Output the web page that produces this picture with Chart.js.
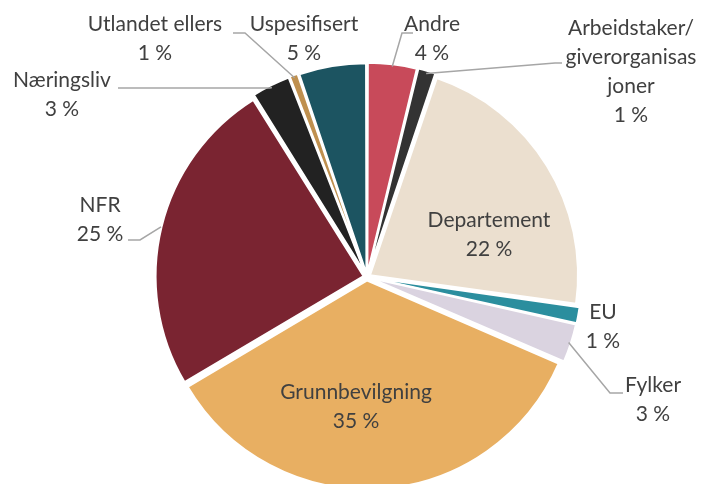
<!DOCTYPE html>
<html>
<head>
<meta charset="utf-8">
<script src="https://cdn.jsdelivr.net/npm/chart.js@4.4.1/dist/chart.umd.min.js"></script>
<style>
  html, body { margin: 0; padding: 0; background: #fff; }
  #wrap { width: 704px; height: 484px; }
</style>
</head>
<body>
<div id="wrap"><canvas id="pie" width="704" height="484"></canvas></div>
<script>
// Shares, clockwise from 12 o'clock
const categories = ['Andre', 'Arbeidstaker/giverorganisasjoner', 'Departement', 'EU', 'Fylker',
    'Grunnbevilgning', 'NFR', 'Næringsliv', 'Utlandet ellers', 'Uspesifisert'];
const shares = [3.8, 1.4, 22.0, 1.3, 3.0, 35.0, 24.6, 3.0, 0.7, 5.2];
const colors = ['#C84A5A', '#333333', '#EBDFCF', '#2B8E9E', '#DAD3E0',
    '#E8AF62', '#7A2431', '#222222', '#BF904F', '#1C5461'];

// label text lines (name part), in the same order as categories
const labelLines = [
    ['Andre'], ['Arbeidstaker/', 'giverorganisas', 'joner'], ['Departement'], ['EU'], ['Fylker'],
    ['Grunnbevilgning'], ['NFR'], ['Næringsliv'], ['Utlandet ellers'], ['Uspesifisert']
];

// where each label sits and how its leader line bends (null = label inside slice)
const labelLayout = [
    { x: 432, y: 24, leader: [[402, 33], [413, 33]] },
    { x: 631, y: 28, leader: [[555, 63], [562, 63]] },
    { x: 489, y: 220, leader: null },
    { x: 603, y: 312, leader: null },
    { x: 653, y: 385, leader: [[610, 393], [623, 393]] },
    { x: 356, y: 392, leader: null },
    { x: 100, y: 205, leader: [[140, 240], [128, 240]] },
    { x: 62, y: 80, leader: [[270, 88], [118, 88]] },
    { x: 155, y: 24, leader: [[245, 33], [233, 33]] },
    { x: 304, y: 24, leader: null }
];

const total = shares.reduce((a, b) => a + b, 0);

const labelPlugin = {
    id: 'pieLabels',
    afterDatasetsDraw(chart) {
        const ctx = chart.ctx;
        const arcs = chart.getDatasetMeta(0).data;
        ctx.save();
        arcs.forEach((arc, i) => {
            const lay = labelLayout[i];
            const mid = (arc.startAngle + arc.endAngle) / 2;
            if (lay.leader) {
                const r = arc.outerRadius + 4;
                ctx.beginPath();
                ctx.moveTo(arc.x + Math.cos(mid) * r, arc.y + Math.sin(mid) * r);
                lay.leader.forEach(p => ctx.lineTo(p[0], p[1]));
                ctx.strokeStyle = '#A6A6A6';
                ctx.lineWidth = 1.5;
                ctx.stroke();
            }
            const lines = labelLines[i].concat([Math.round(shares[i] / total * 100) + ' %']);
            ctx.fillStyle = '#404040';
            ctx.font = '21px Lato';
            ctx.textAlign = 'center';
            ctx.textBaseline = 'middle';
            lines.forEach((t, k) => ctx.fillText(t, lay.x, lay.y + k * 29));
        });
        ctx.restore();
    }
};

new Chart(document.getElementById('pie'), {
    type: 'pie',
    data: {
        labels: categories,
        datasets: [{
            data: shares,
            backgroundColor: colors,
            borderColor: '#FFFFFF',
            borderWidth: 2,
            offset: 14,
            radius: 208
        }]
    },
    options: {
        responsive: false,
        animation: false,
        devicePixelRatio: 1,
        layout: { padding: { left: 30, top: 70, right: 0, bottom: 0 } },
        plugins: {
            legend: { display: false },
            tooltip: { enabled: false }
        }
    },
    plugins: [labelPlugin]
});
</script>
</body>
</html>
